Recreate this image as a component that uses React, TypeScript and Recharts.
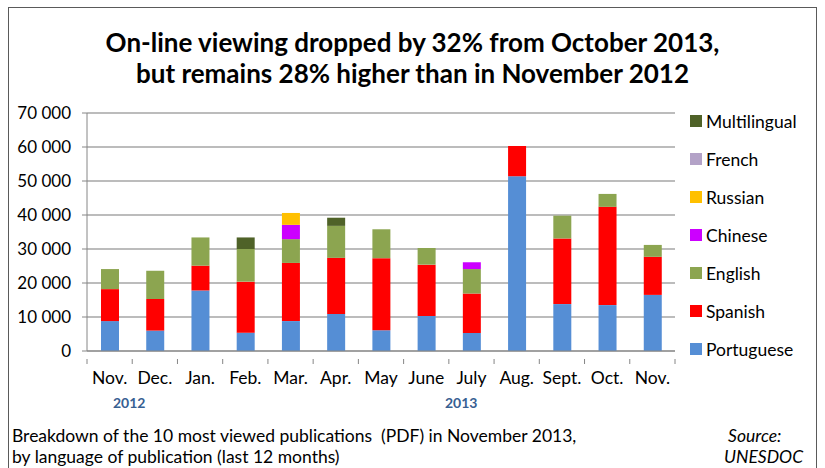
import { Bar, BarChart, CartesianGrid, XAxis, YAxis } from "recharts";

const months = ["Nov.", "Dec.", "Jan.", "Feb.", "Mar.", "Apr.", "May", "June", "July", "Aug.", "Sept.", "Oct.", "Nov."];

const portuguese = [8800, 6000, 17800, 5400, 8800, 10900, 6100, 10300, 5300, 51400, 13800, 13500, 16500];
const spanish = [9400, 9300, 7300, 15000, 17100, 16500, 21200, 15100, 11600, 8900, 19300, 28900, 11200];
const english = [5900, 8300, 8300, 9600, 7000, 9400, 8500, 4900, 7200, 0, 6700, 3800, 3500];
const chinese = [0, 0, 0, 0, 4200, 0, 0, 0, 2000, 0, 0, 0, 0];
const russian = [0, 0, 0, 0, 3500, 0, 0, 0, 0, 0, 0, 0, 0];
const french = [0, 0, 0, 0, 0, 0, 0, 0, 0, 0, 0, 0, 0];
const multilingual = [0, 0, 0, 3400, 0, 2400, 0, 0, 0, 0, 0, 0, 0];

const yTicks = [0, 10000, 20000, 30000, 40000, 50000, 60000, 70000];

// stack order bottom -> top
const series = [
  { key: "portuguese", name: "Portuguese", color: "#558ED5" },
  { key: "spanish", name: "Spanish", color: "#FF0000" },
  { key: "english", name: "English", color: "#8CA550" },
  { key: "chinese", name: "Chinese", color: "#CC00FF" },
  { key: "russian", name: "Russian", color: "#FFC000" },
  { key: "french", name: "French", color: "#B3A2C7" },
  { key: "multilingual", name: "Multilingual", color: "#4F6228" },
];

const data = months.map((m, i) => ({
  month: m,
  portuguese: portuguese[i],
  spanish: spanish[i],
  english: english[i],
  chinese: chinese[i],
  russian: russian[i],
  french: french[i],
  multilingual: multilingual[i],
}));

const FONT = "Lato, 'Open Sans', sans-serif";

const fmt = (v: number) => (v === 0 ? "0" : `${Math.round(v / 1000)} 000`);

function MonthTick(props: any) {
  const { x, y, payload, width } = props;
  const band = (width || 588) / months.length;
  return (
    <g>
      <line x1={x - band / 2} x2={x - band / 2} y1={y} y2={y + 5} stroke="#868686" />
      {payload.index === months.length - 1 ? (
        <line x1={x + band / 2} x2={x + band / 2} y1={y} y2={y + 5} stroke="#868686" />
      ) : null}
      <text x={x} y={y + 25} textAnchor="middle" fontSize={17.5} fill="#000" fontFamily={FONT}>
        {payload.value}
      </text>
    </g>
  );
}

export default function App() {
  return (
    <div style={{ position: "absolute", left: 0, top: 0, width: 825, height: 468, background: "#fff", overflow: "hidden", fontFamily: FONT }}>
      <div
        style={{
          position: "absolute",
          left: 8,
          top: 7,
          width: 809,
          height: 480,
          border: "1px solid #5a5a5a",
          boxSizing: "border-box",
        }}
      />
      <div
        style={{
          position: "absolute",
          left: 0,
          top: 27,
          width: 825,
          textAlign: "center",
          fontWeight: 700,
          fontSize: 26,
          lineHeight: "31px",
          color: "#000",
        }}
      >
        On-line viewing dropped by 32% from October 2013,
        <br />
        but remains 28% higher than in November 2012
      </div>
      <BarChart
        width={825}
        height={468}
        data={data}
        margin={{ top: 113, right: 150, left: 8, bottom: 77 }}
        barSize={18}
        style={{ position: "absolute", left: 0, top: 0 }}
      >
        <CartesianGrid vertical={false} stroke="#A6A6A6" strokeWidth={1.5} />
        <XAxis
          dataKey="month"
          axisLine={{ stroke: "#868686" }}
          tickLine={false}
          tick={<MonthTick />}
          interval={0}
          height={40}
        />
        <YAxis
          width={79}
          domain={[0, 70000]}
          ticks={yTicks}
          interval={0}
          tickFormatter={fmt}
          axisLine={{ stroke: "#868686" }}
          tickLine={{ stroke: "#868686" }}
          tickSize={5}
          tickMargin={11}
          tick={{ fontSize: 17, fill: "#000", fontFamily: FONT }}
        />
        {series.map((s) => (
          <Bar key={s.key} dataKey={s.key} name={s.name} stackId="a" fill={s.color} isAnimationActive={false} />
        ))}
      </BarChart>
      <div style={{ position: "absolute", left: 690, top: 102, fontSize: 17.5, color: "#000" }}>
        {[...series].reverse().map((s) => (
          <div key={s.key} style={{ display: "flex", alignItems: "center", height: 38 }}>
            <span style={{ width: 12, height: 12, background: s.color, marginRight: 4, display: "inline-block" }} />
            <span>{s.name}</span>
          </div>
        ))}
      </div>
      <div style={{ position: "absolute", left: 113, top: 394, fontSize: 14, fontWeight: 700, color: "#376092" }}>2012</div>
      <div style={{ position: "absolute", left: 445, top: 394, fontSize: 14, fontWeight: 700, color: "#376092" }}>2013</div>
      <div style={{ position: "absolute", left: 12, top: 425, fontSize: 17.5, lineHeight: "21px", color: "#000" }}>
        Breakdown of the 10 most viewed publications&nbsp; (PDF) in November 2013,
        <br />
        by language of publication (last 12 months)
      </div>
      <div style={{ position: "absolute", left: 724, top: 425, fontSize: 17.5, lineHeight: "21px", fontStyle: "italic", color: "#000" }}>
        &nbsp;Source:
        <br />
        UNESDOC
      </div>
    </div>
  );
}
